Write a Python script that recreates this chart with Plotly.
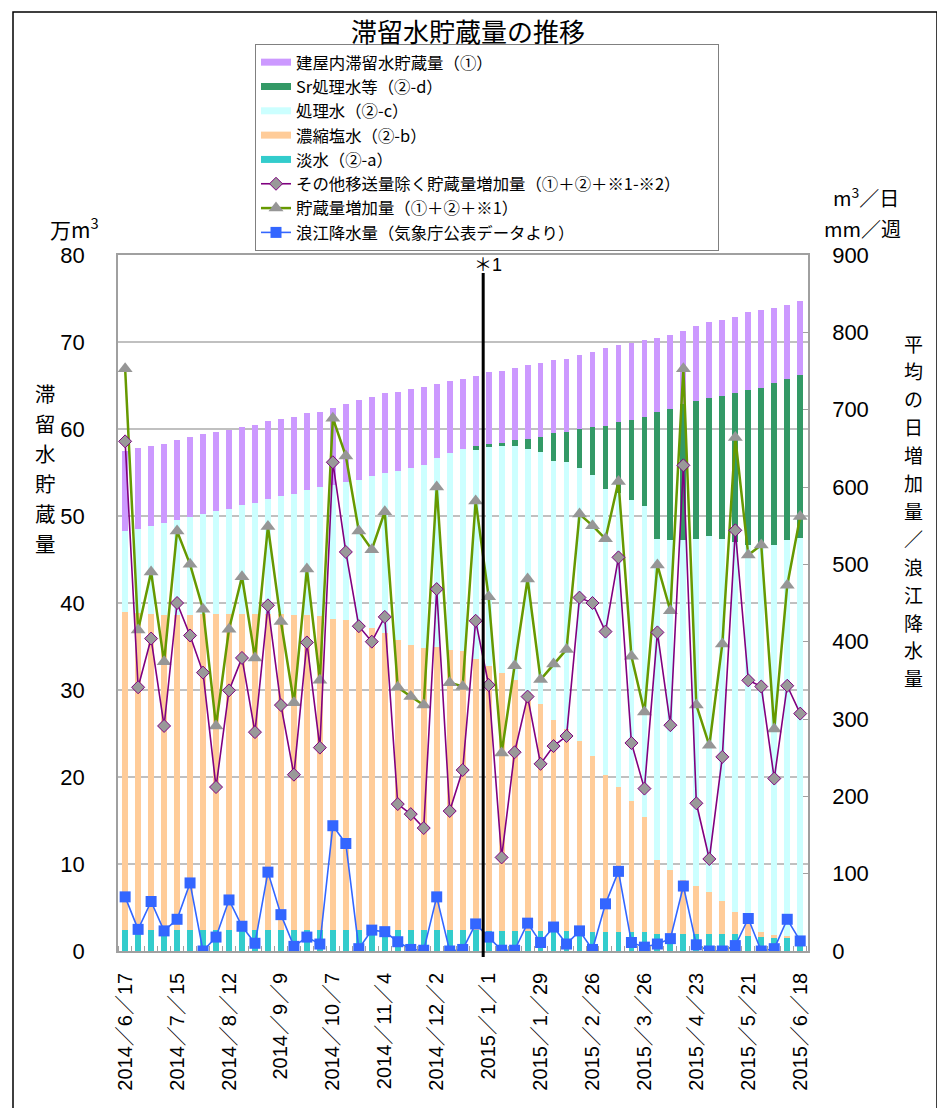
import plotly.graph_objects as go

# ---------------- data ----------------
week_index = list(range(53))
tick_positions = [0, 4, 8, 12, 16, 20, 24, 28, 32, 36, 40, 44, 48, 52]
tick_labels = ["2014／6／17", "2014／7／15", "2014／8／12", "2014／9／9", "2014／10／7",
               "2014／11／4", "2014／12／2", "2015／1／1", "2015／1／29", "2015／2／26",
               "2015／3／26", "2015／4／23", "2015／5／21", "2015／6／18"]

# 万m3 stacked components
fresh_water = [2.4] * 28 + [2.3] * 7 + [2.2] * 6 + [1.9] * 7 + [1.7, 1.6, 1.6, 1.6, 0.8]
concentrated_salt = [36.6, 36.5, 36.3, 36.2, 36.2, 36.2, 36.3, 36.3, 36.3, 36.3, 36.3, 36.3, 36.3,
                     36.2, 36.2, 36.1, 35.8, 35.6, 35.3, 34.7, 34.2, 33.4, 32.8, 32.4, 32.5, 32.2,
                     32.1, 31.2, 30.5, 29.7, 28.8, 27.5, 26.1, 24.3, 23.2, 21.9, 20.2, 18.0, 16.6,
                     15.0, 13.2, 8.6, 7.4, 6.3, 5.6, 4.9, 3.8, 2.6, 1.8, 0.6, 0.2, 0.1, 0.0]
treated_water = [9.3, 9.6, 10.2, 10.6, 10.9, 11.3, 11.5, 11.9, 12.1, 12.6, 12.8, 13.2, 13.6, 13.9,
                 14.4, 14.8, 15.4, 15.9, 16.4, 17.5, 18.3, 19.4, 20.3, 21.1, 21.8, 22.6, 23.2, 24.0,
                 25.1, 26.0, 27.0, 27.9, 28.9, 29.7, 30.7, 31.4, 32.3, 32.9, 33.8, 34.6, 35.7, 36.8,
                 37.9, 39.0, 39.9, 40.9, 41.7, 42.5, 43.2, 44.4, 44.9, 45.5, 46.7]
sr_treated = [0.0] * 27 + [0.4, 0.4, 0.4, 0.6, 1.2, 1.8, 3.2, 3.4, 4.5, 5.5, 7.3, 8.2, 9.2, 10.3,
                           14.7, 15.1, 15.7, 15.8, 15.9, 16.4, 17.1, 17.8, 18.1, 18.6, 18.5, 18.7]
building_water = [9.2, 9.3, 9.2, 9.1, 9.2, 9.2, 9.2, 9.0, 9.1, 8.9, 9.0, 9.0, 8.9, 8.9, 8.8, 8.7,
                  8.8, 9.0, 9.2, 9.1, 9.2, 9.1, 9.1, 8.9, 8.5, 8.3, 8.0, 8.1, 8.3, 8.3, 8.3, 8.4,
                  8.5, 8.4, 8.5, 8.5, 8.7, 8.9, 8.9, 8.9, 8.8, 8.5, 8.5, 8.4, 8.6, 8.7, 8.7, 8.8,
                  8.9, 9.0, 8.6, 8.5, 8.5]

# m3/日 and mm/週
increase_excl_transfer = [659, 341, 404, 291, 450, 408, 360, 212, 337, 379, 283, 447, 318, 228, 399,
                          263, 632, 516, 420, 400, 432, 190, 177, 159, 468, 181, 234, 427, 344, 121,
                          257, 329, 242, 265, 278, 457, 450, 413, 509, 269, 210, 412, 292, 628, 191,
                          119, 251, 544, 350, 342, 223, 343, 307]
storage_increase = [753, 415, 490, 374, 543, 500, 442, 291, 416, 484, 379, 549, 426, 321, 494, 350,
                    689, 640, 543, 519, 568, 341, 329, 318, 600, 347, 342, 582, 458, 256, 369, 481,
                    351, 371, 390, 565, 550, 533, 607, 381, 309, 499, 440, 753, 318, 266, 397, 664,
                    512, 525, 287, 473, 562]
rainfall = [70, 28, 64, 26, 41, 88, 0, 18, 66, 32, 10, 102, 47, 6, 18, 9, 162, 139, 3, 27, 25, 12,
            2, 1, 70, 0, 2, 35, 18, 1, 1, 36, 11, 31, 9, 26, 2, 61, 103, 11, 5, 9, 16, 84, 8, 0, 0,
            7, 42, 0, 3, 41, 13]

names = ["建屋内滞留水貯蔵量（①）", "Sr処理水等（②-d）", "処理水（②-c）", "濃縮塩水（②-b）",
         "淡水（②-a）", "その他移送量除く貯蔵量増加量（①＋②＋※1-※2）",
         "貯蔵量増加量（①＋②＋※1）", "浪江降水量（気象庁公表データより）"]

C_BUILD = "#CC99FF"
C_SR = "#339966"
C_TREAT = "#CCFFFF"
C_CONC = "#FFCC99"
C_FRESH = "#33CCCC"

JP = "Noto Sans CJK JP"
NUM = "Liberation Sans, Arial, Noto Sans CJK JP"

fig = go.Figure()

# stacked bars (bottom to top)
bar_series = [(fresh_water, C_FRESH), (concentrated_salt, C_CONC), (treated_water, C_TREAT),
              (sr_treated, C_SR), (building_water, C_BUILD)]
bar_names = [names[4], names[3], names[2], names[1], names[0]]
for (vals, col), nm in zip(bar_series, bar_names):
    fig.add_trace(go.Bar(x=week_index, y=vals, name=nm, marker=dict(color=col, line=dict(width=0)),
                         showlegend=False, yaxis="y"))

# legend swatches for bars
for rank, (nm, col) in enumerate([(names[0], C_BUILD), (names[1], C_SR), (names[2], C_TREAT),
                                  (names[3], C_CONC), (names[4], C_FRESH)]):
    fig.add_trace(go.Scatter(x=[None], y=[None], mode="lines", name=nm,
                             line=dict(color=col, width=7), legendrank=rank + 1, yaxis="y"))

# lines
fig.add_trace(go.Scatter(x=week_index, y=storage_increase, name=names[6], mode="lines+markers",
                         line=dict(color="#669900", width=2.5),
                         marker=dict(symbol="triangle-up", size=13, color="#969696",
                                     line=dict(width=0)),
                         legendrank=7, yaxis="y2"))
fig.add_trace(go.Scatter(x=week_index, y=increase_excl_transfer,
                         name=names[5] + "\u3000" * 2 + "\u00a0" * 2, mode="lines+markers",
                         line=dict(color="#800080", width=1.6),
                         marker=dict(symbol="diamond", size=10, color="#999999",
                                     line=dict(color="#800080", width=1)),
                         legendrank=6, yaxis="y2"))
fig.add_trace(go.Scatter(x=week_index, y=rainfall, name=names[7], mode="lines+markers",
                         line=dict(color="#3366FF", width=1.6),
                         marker=dict(symbol="square", size=11, color="#3366FF",
                                     line=dict(width=0)),
                         legendrank=8, yaxis="y2"))

# page body has an 8px margin: work in reference pixel coordinates and subtract it
OFF = 8
W, H = 945 - OFF, 1108 - OFF
L, R_EDGE, T, B_EDGE = 118, 808, 255, 951
ml, mt = L - OFF, T - OFF
mr, mb = W - (R_EDGE - OFF), H - (B_EDGE - OFF)
PW, PH = R_EDGE - L, B_EDGE - T


def px(xp):
    return (xp - L) / PW


def py(yp):
    return (B_EDGE - yp) / PH


fig.update_layout(
    width=W, height=H, autosize=False,
    margin=dict(l=ml, r=mr, t=mt, b=mb, pad=0),
    paper_bgcolor="white", plot_bgcolor="white",
    barmode="stack", bargap=0.55,
    font=dict(family=JP, color="black"),
    title=dict(text="滞留水貯蔵量の推移", x=(468 - OFF) / W, xanchor="center", xref="container",
               y=1 - (33 - OFF) / H, yanchor="middle", yref="container",
               font=dict(family=JP, size=26, color="black")),
    legend=dict(x=px(255), xanchor="left", y=py(44), yanchor="top",
                bgcolor="white", bordercolor="#808080", borderwidth=1,
                font=dict(family=JP, size=16.4, color="black"),
                traceorder="normal", tracegroupgap=0),
    xaxis=dict(range=[-0.55, 52.6], tickmode="array", tickvals=tick_positions,
               ticktext=tick_labels, tickangle=-90, ticks="",
               tickfont=dict(family=NUM, size=20, color="black"),
               ticklabelstandoff=12,
               showgrid=False, zeroline=False,
               showline=True, linecolor="#a0a0a0", linewidth=1.5, mirror=True,
               minor=dict(ticks="inside", tick0=0.5, dtick=1, ticklen=5, tickcolor="#a0a0a0",
                          showgrid=False)),
    yaxis=dict(range=[0, 80], dtick=10, tickfont=dict(family=NUM, size=22, color="black"),
               showgrid=True, gridcolor="#c0c0c0", gridwidth=1.5, zeroline=False,
               showline=True, linecolor="#a0a0a0", linewidth=1.5, ticks="",
               ticklabelstandoff=27),
    yaxis2=dict(range=[0, 900], dtick=100, overlaying="y", side="right",
                tickfont=dict(family=NUM, size=22, color="black"),
                showgrid=False, zeroline=False,
                showline=True, linecolor="#a0a0a0", linewidth=1.5,
                ticks="inside", ticklen=5, tickcolor="#a0a0a0", ticklabelstandoff=18),
    showlegend=True,
)

annotations = [
    dict(text="万m<sup>3</sup>", x=px(101), y=py(228), xanchor="right", yanchor="middle",
         font=dict(size=21)),
    dict(text="m<sup>3</sup>／日", x=px(866), y=py(197), xanchor="center", yanchor="middle",
         font=dict(size=20)),
    dict(text="mm／週", x=px(863), y=py(228), xanchor="center", yanchor="middle",
         font=dict(size=20)),
    dict(text="＊1", x=px(488), y=py(265), xanchor="center", yanchor="middle",
         font=dict(family=NUM, size=18)),
]
# vertical (stacked) axis titles, one character each
left_title = "滞留水貯蔵量"
for i, ch in enumerate(left_title):
    annotations.append(dict(text=ch, x=px(45), y=py(393 + 30 * i), xanchor="center",
                            yanchor="middle", font=dict(size=20.5)))
right_title = "平均の日増加量／浪江降水量"
for i, ch in enumerate(right_title):
    annotations.append(dict(text=ch, x=px(913), y=py(343 + 27.9 * i), xanchor="center",
                            yanchor="middle", font=dict(size=19)))
for a in annotations:
    a.update(xref="paper", yref="paper", showarrow=False)
fig.update_layout(annotations=annotations)

fig.add_shape(type="line", xref="x", yref="paper", x0=27.58, x1=27.58, y0=py(957), y1=py(273),
              line=dict(color="black", width=3), layer="above")
# outer frame
fig.add_shape(type="rect", xref="paper", yref="paper", x0=px(13), x1=px(937), y0=py(1130),
              y1=py(12), line=dict(color="black", width=1.5), fillcolor="rgba(0,0,0,0)",
              layer="above")

fig.write_html("out.html")
